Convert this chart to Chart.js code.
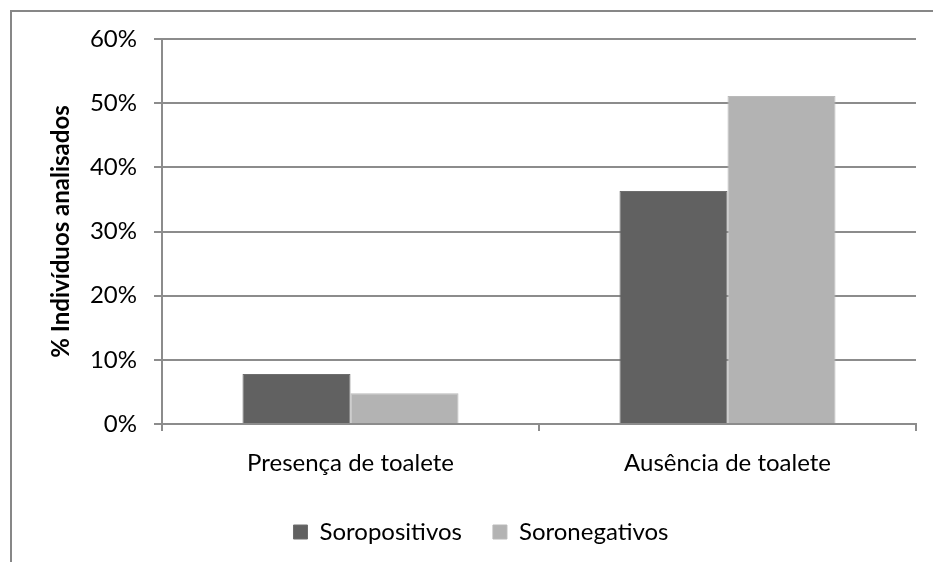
<!DOCTYPE html>
<html>
<head>
<meta charset="utf-8">
<script src="https://cdn.jsdelivr.net/npm/chart.js@4/dist/chart.umd.min.js"></script>
<style>
  html, body { margin: 0; padding: 0; background: #fff; overflow: hidden; }
  canvas { display: block; }
</style>
</head>
<body>
<canvas id="chart" width="963" height="562"></canvas>
<script>
const categories = ['Presença de toalete', 'Ausência de toalete'];
const soropositivos = [7.8, 36.3];
const soronegativos = [4.8, 51.1];
const yMax = 60;
const yStep = 10;

const fontFamily = 'Lato, "Open Sans", sans-serif';
const gridColor = '#8c8c8c';

// outer frame of the chart (only top and left edges are in view)
const frame = {
    id: 'frame',
    beforeDraw(chart) {
        const ctx = chart.ctx;
        ctx.save();
        ctx.fillStyle = '#fff';
        ctx.fillRect(0, 0, chart.width, chart.height);
        ctx.strokeStyle = '#878787';
        ctx.lineWidth = 2;
        ctx.strokeRect(11, 11, 942, 700);
        ctx.restore();
    }
};

new Chart(document.getElementById('chart'), {
    type: 'bar',
    data: {
        labels: categories,
        datasets: [{
            label: 'Soropositivos',
            data: soropositivos,
            backgroundColor: '#616161',
            borderColor: '#6e6e6e',
            borderWidth: 1
        }, {
            label: 'Soronegativos',
            data: soronegativos,
            backgroundColor: '#b3b3b3',
            borderColor: '#bababa',
            borderWidth: 1
        }]
    },
    options: {
        responsive: false,
        animation: false,
        devicePixelRatio: 1,
        layout: {
            padding: { top: 39, right: 47, left: 46, bottom: 8 }
        },
        datasets: {
            bar: { categoryPercentage: 0.573, barPercentage: 1 }
        },
        plugins: {
            legend: {
                position: 'bottom',
                labels: {
                    color: '#000',
                    font: { family: fontFamily, size: 24 },
                    boxWidth: 14,
                    boxHeight: 14,
                    padding: 31
                }
            },
            tooltip: { enabled: false }
        },
        scales: {
            x: {
                afterFit(scale) { scale.height = 65; },
                border: { color: gridColor, width: 2 },
                grid: {
                    drawOnChartArea: false,
                    color: gridColor,
                    lineWidth: 2,
                    tickLength: 7
                },
                ticks: {
                    color: '#000',
                    padding: 18,
                    font: { family: fontFamily, size: 24 }
                }
            },
            y: {
                min: 0,
                max: yMax,
                afterFit(scale) { scale.width = 116; },
                border: { color: gridColor, width: 2 },
                grid: {
                    color: gridColor,
                    lineWidth: 2,
                    tickLength: 8
                },
                ticks: {
                    stepSize: yStep,
                    color: '#000',
                    padding: 17,
                    font: { family: fontFamily, size: 24 },
                    callback: v => v + '%'
                },
                title: {
                    display: true,
                    text: '% Indivíduos analisados',
                    color: '#000',
                    padding: { top: 1, bottom: 0 },
                    font: { family: fontFamily, size: 24, weight: 'bold' }
                }
            }
        }
    },
    plugins: [frame]
});
</script>
</body>
</html>
